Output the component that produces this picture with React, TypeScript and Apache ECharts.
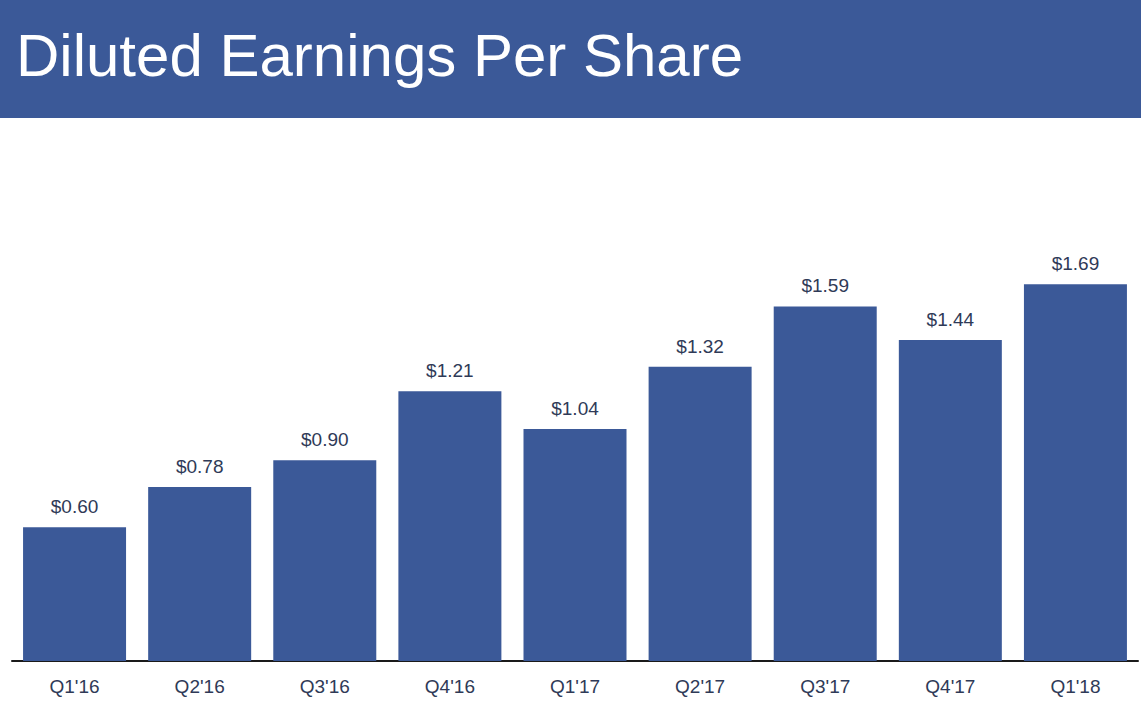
import React, { useEffect, useRef } from "react";
import * as echarts from "echarts";

const categories = ["Q1'16", "Q2'16", "Q3'16", "Q4'16", "Q1'17", "Q2'17", "Q3'17", "Q4'17", "Q1'18"];
const eps = [0.6, 0.78, 0.9, 1.21, 1.04, 1.32, 1.59, 1.44, 1.69];
const title = "Diluted Earnings Per Share";

const BLUE = "#3b5998";
const TEXT = "#2f3a57";
const FONT = "'Liberation Sans', Arial, sans-serif";

export default function App() {
  const ref = useRef<HTMLDivElement>(null);
  useEffect(() => {
    if (!ref.current) return;
    const chart = echarts.init(ref.current, null, { renderer: "svg" });
    chart.setOption({
      animation: false,
      backgroundColor: "#ffffff",
      graphic: [
        { type: "rect", left: 0, top: 0, shape: { width: 1141, height: 118 }, style: { fill: BLUE } },
        {
          type: "text",
          left: 16,
          top: 25,
          style: {
            text: title,
            fill: "#ffffff",
            font: "60px " + FONT,
          },
        },
      ],
      grid: { left: 12, right: 3, top: 215, bottom: 50 },
      xAxis: {
        type: "category",
        data: categories,
        axisLine: { lineStyle: { color: "#1a1a1a", width: 2 } },
        axisTick: { show: false },
        axisLabel: {
          color: TEXT,
          fontSize: 19,
          fontFamily: FONT,
          margin: 16,
        },
      },
      yAxis: {
        type: "value",
        min: 0,
        max: 2,
        show: false,
        splitLine: { show: false },
      },
      series: [
        {
          type: "bar",
          data: eps,
          barWidth: 103,
          itemStyle: { color: BLUE },
          label: {
            show: true,
            position: "top",
            distance: 11,
            color: TEXT,
            fontSize: 19,
            fontFamily: FONT,
            formatter: (p: any) => "$" + p.value.toFixed(2),
          },
        },
      ],
    });
    return () => chart.dispose();
  }, []);
  return (
    <div
      ref={ref}
      style={{ position: "absolute", left: 0, top: 0, width: 1141, height: 711 }}
    />
  );
}
